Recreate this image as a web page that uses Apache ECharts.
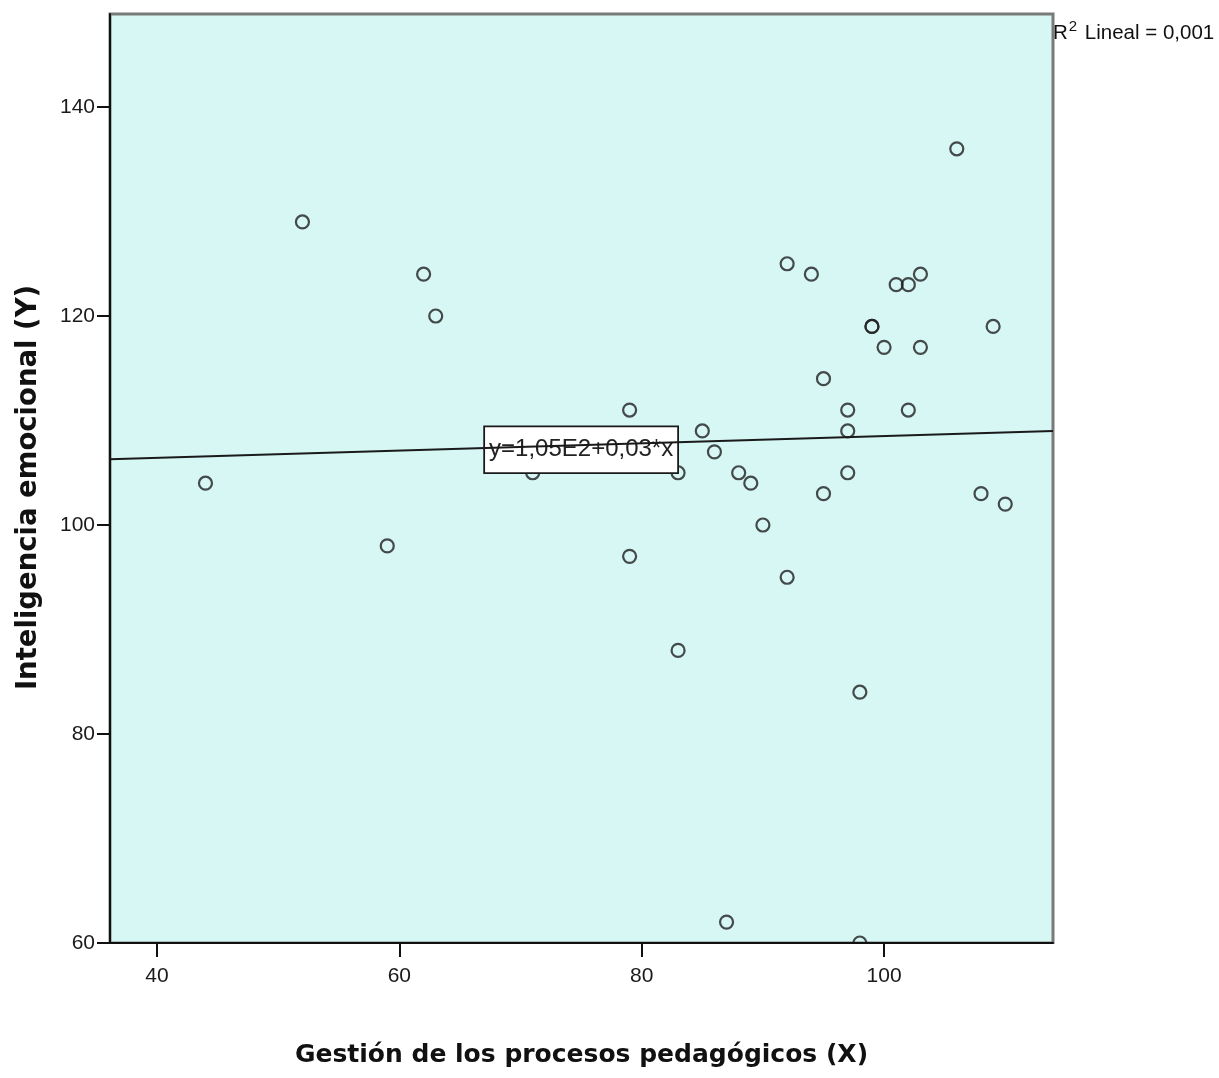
<!DOCTYPE html>
<html>
<head>
<meta charset="utf-8">
<script src="https://cdn.jsdelivr.net/npm/echarts@6/dist/echarts.min.js"></script>
<style>
  html, body { margin: 0; padding: 0; background: #ffffff; }
  #chart { width: 1219px; height: 1078px; }
</style>
</head>
<body>
<div id="chart"></div>
<script>
// Data
const xValues = [44,52,59,62,63,71,79,79,83,83,85,86,87,88,89,90,92,92,94,95,95,97,97,97,98,98,99,99,100,101,102,102,103,103,106,108,109,110];
const yValues = [104,129,98,124,120,105,111,97,105,88,109,107,62,105,104,100,125,95,124,114,103,111,109,105,84,60,119,119,117,123,123,111,124,117,136,103,119,102];
// Fit line, as read at the plot's left and right edges
const fitX = [36.12, 113.94];
const fitY = [106.3, 109.0];
const xTicks = [40, 60, 80, 100];
const yTicks = [60, 80, 100, 120, 140];
const fitLabel = 'y=1,05E2+0,03*x';
const r2Value = '0,001';
const xTitle = 'Gestión de los procesos pedagógicos (X)';
const yTitle = 'Inteligencia emocional (Y)';

const points = xValues.map((x, i) => [x, yValues[i]]);
const fitLine = fitX.map((x, i) => [x, fitY[i]]);

const chart = echarts.init(document.getElementById('chart'), null, { renderer: 'canvas' });
const tickFont = { fontFamily: 'Liberation Sans', fontSize: 21, color: '#1a1a1a' };

chart.setOption({
  animation: false,
  backgroundColor: '#ffffff',
  title: {
    text: '{r|R}{s|2}{r| Lineal = ' + r2Value + '}',
    left: 1053,
    top: 20,
    padding: 0,
    textStyle: {
      fontWeight: 'normal',
      rich: {
        r: { fontFamily: 'Liberation Sans', fontWeight: 'normal', fontSize: 20.5, color: '#111', lineHeight: 26 },
        s: { fontFamily: 'Liberation Sans', fontWeight: 'normal', fontSize: 15, color: '#111', lineHeight: 26, padding: [0, 2, 12, 1] }
      }
    }
  },
  grid: {
    left: 110, top: 14, right: 166, bottom: 135,
    show: true,
    backgroundColor: '#d6f7f4',
    borderColor: '#7a7a7a',
    borderWidth: 3
  },
  xAxis: {
    type: 'value',
    min: 36.12,
    max: 113.94,
    z: 10,
    name: xTitle,
    nameLocation: 'middle',
    nameGap: 100,
    nameTextStyle: { fontFamily: 'DejaVu Sans', fontWeight: 'bold', fontSize: 25, color: '#111' },
    axisLine: { show: true, onZero: false, lineStyle: { color: '#111', width: 2 } },
    axisTick: { show: true, length: 14, lineStyle: { color: '#111', width: 2 }, customValues: xTicks },
    axisLabel: Object.assign({ margin: 23, customValues: xTicks }, tickFont),
    splitLine: { show: false }
  },
  yAxis: {
    type: 'value',
    min: 60,
    max: 148.9,
    z: 10,
    name: yTitle,
    nameLocation: 'middle',
    nameGap: 67,
    nameTextStyle: { fontFamily: 'DejaVu Sans', fontWeight: 'bold', fontSize: 27.5, color: '#111', padding: [0, 18, 0, 0] },
    axisLine: { show: true, onZero: false, lineStyle: { color: '#111', width: 2 } },
    axisTick: { show: true, length: 13, lineStyle: { color: '#111', width: 2 }, customValues: yTicks },
    axisLabel: Object.assign({ margin: 15, padding: [9, 0, 0, 0], customValues: yTicks }, tickFont),
    splitLine: { show: false }
  },
  series: [
    {
      type: 'scatter',
      data: points,
      symbol: 'circle',
      symbolSize: 13,
      z: 2,
      itemStyle: { color: 'rgba(0,0,0,0)', borderColor: '#1e1e1e', borderWidth: 2.2 },
      emphasis: { disabled: true }
    },
    {
      type: 'line',
      data: fitLine,
      symbol: 'none',
      z: 5,
      lineStyle: { color: '#1a1a1a', width: 2 },
      emphasis: { disabled: true },
      markPoint: {
        symbol: 'rect',
        symbolSize: 0,
        silent: true,
        data: [{ coord: [75, 107.2] }],
        label: {
          show: true,
          position: 'inside',
          formatter: fitLabel,
          fontFamily: 'Liberation Sans',
          fontSize: 24,
          lineHeight: 26,
          color: '#222',
          backgroundColor: '#ffffff',
          borderColor: '#1a1a1a',
          borderWidth: 1.8,
          padding: [10, 4, 9, 4]
        }
      }
    }
  ]
});

// Mask below the plot so marks sitting on the x axis are clipped at the plot edge
const pTopLeft = chart.convertToPixel({ gridIndex: 0 }, [36.12, 60]);
const pRight = chart.convertToPixel({ gridIndex: 0 }, [113.94, 60]);
chart.setOption({
  graphic: [{
    type: 'rect',
    z: 6,
    silent: true,
    shape: { x: pTopLeft[0] - 10, y: pTopLeft[1] + 1, width: pRight[0] - pTopLeft[0] + 20, height: 12 },
    style: { fill: '#ffffff' }
  }]
});
</script>
</body>
</html>
